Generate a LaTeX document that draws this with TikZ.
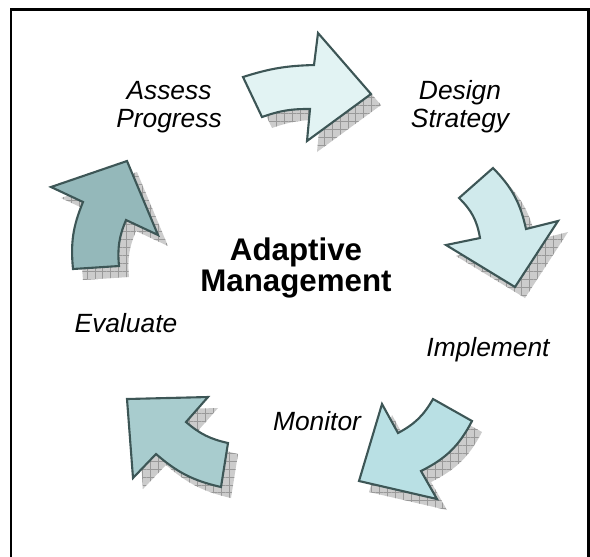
\documentclass[tikz,border=0pt]{standalone}
\usepackage{fontspec}
\setmainfont{Liberation Sans}
\usetikzlibrary{patterns.meta}

\definecolor{rim}{HTML}{3D5656}
\definecolor{fa}{HTML}{E2F3F3}
\definecolor{fb}{HTML}{D0EAEC}
\definecolor{fc}{HTML}{B9E0E4}
\definecolor{fd}{HTML}{A8CCCE}
\definecolor{fe}{HTML}{94B8BA}

% the five curved arrows, in pixel units
\newcommand\arrA{(243,77) to[bend left=8] (314,65) -- (318,33) -- (371,94)
  -- (307,141) -- (310,109) to[bend right=10] (262,117) -- cycle}
\newcommand\arrB{(493,168) to[bend left=16] (526,229) -- (558,221) -- (515,287)
  -- (446,245) -- (480,238) to[bend right=18] (459,198) -- cycle}
\newcommand\arrC{(472,421) to[bend left=18] (421,471) -- (437,499) -- (359,481)
  -- (382,404) -- (398,433) to[bend right=16] (433,399) -- cycle}
\newcommand\arrD{(221,487) to[bend left=14] (156,454) -- (133,478) -- (127,399)
  -- (208,397) -- (186,422) to[bend right=14] (228,443) -- cycle}
\newcommand\arrE{(73,269) to[bend left=14] (83,202) -- (51,187) -- (127,161)
  -- (158,235) -- (126,220) to[bend right=14] (119,266) -- cycle}

\tikzset{
  arr/.style={draw=rim,line width=1.2pt,line join=miter},
  shade/.style={shift={(10,11)},fill=gray!40,
    postaction={pattern={Hatch[angle=0,distance=4.5pt,line width=0.4pt]},
      pattern color=gray!80}},
  lbl/.style={font=\fontsize{15}{16}\selectfont\itshape,align=center},
  ttl/.style={font=\fontsize{17.8}{17.5}\selectfont\bfseries,align=center}
}

\begin{document}
\begin{tikzpicture}[x=0.02cm,y=-0.02cm]

    \useasboundingbox (0,0) rectangle (590,556);
    \clip (0,0) rectangle (590,556);
    \draw[line width=1.6pt] (11,9.3) rectangle (588.7,620);

    % shadows first, then the arrows
    \fill[shade] \arrA;
    \fill[shade] \arrB;
    \fill[shade] \arrC;
    \fill[shade] \arrD;
    \fill[shade] \arrE;
    \filldraw[arr,fill=fa] \arrA;
    \filldraw[arr,fill=fb] \arrB;
    \filldraw[arr,fill=fc] \arrC;
    \filldraw[arr,fill=fd] \arrD;
    \filldraw[arr,fill=fe] \arrE;

    \node[ttl] (am) at (296,268) {Adaptive\\Management};
    \node[lbl] (ap) at (169,107) {Assess\\Progress};
    \node[lbl] (ds) at (460,107) {Design\\Strategy};
    \node[lbl] (im) at (488,350) {Implement};
    \node[lbl] (mo) at (317,421) {Monitor};
    \node[lbl] (ev) at (126,323) {Evaluate};

\end{tikzpicture}
\end{document}
